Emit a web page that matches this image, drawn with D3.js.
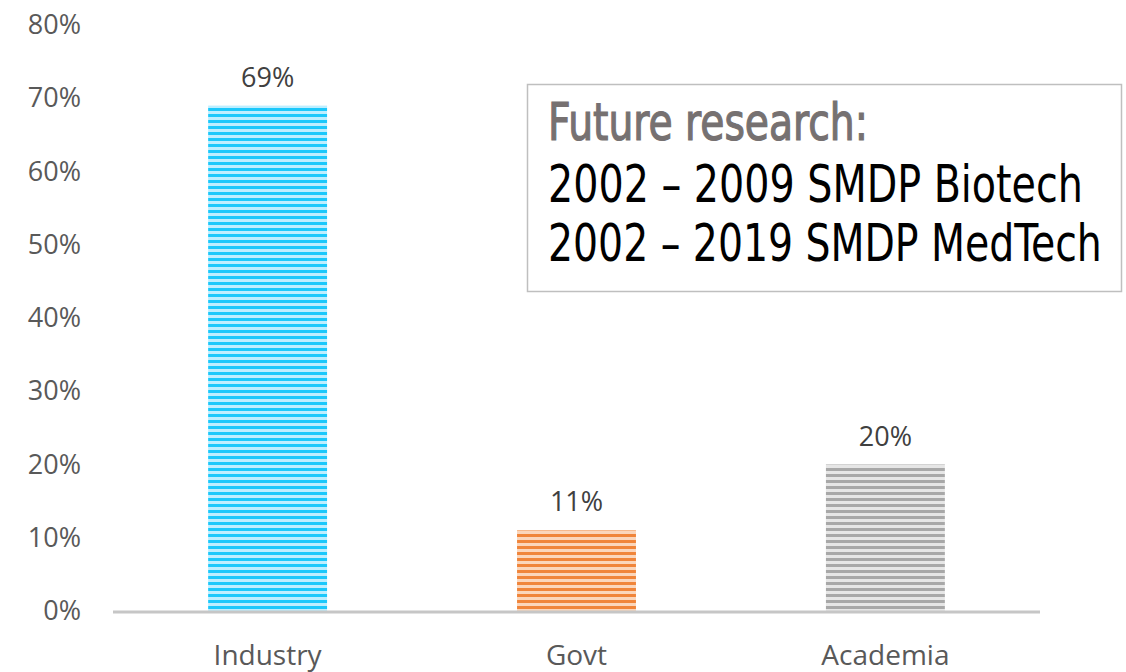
<!DOCTYPE html>
<html><head><meta charset="utf-8">
<script src="https://cdn.jsdelivr.net/npm/d3@7"></script>
<style>body{margin:0;background:#fff}svg{display:block}</style>
</head><body>
<script>
const categories = ["Industry", "Govt", "Academia"];
const values = [69, 11, 20];
const yTicks = [0, 10, 20, 30, 40, 50, 60, 70, 80];
const dark = ["#1cc8fb", "#f0853a", "#a8a8a8"];
const light = ["#bdeeff", "#fbd6bb", "#e6e6e6"];
const boxLines = ["Future research:", "2002 – 2009 SMDP Biotech", "2002 – 2019 SMDP MedTech"];

const W = 1126, H = 672;
const svg = d3.select("body").append("svg").attr("width", W).attr("height", H);
const defs = svg.append("defs");
categories.forEach((c, i) => {
  const p = defs.append("pattern").attr("id", "pat" + i).attr("patternUnits", "userSpaceOnUse")
    .attr("width", 8).attr("height", 6);
  p.append("rect").attr("width", 8).attr("height", 6).attr("fill", light[i]);
  p.append("rect").attr("y", 0).attr("width", 8).attr("height", 3).attr("fill", dark[i]);
});

const x = d3.scaleBand().domain(categories).range([113, 1040]).paddingInner(0.615).paddingOuter(0.308);
const y = d3.scaleLinear().domain([0, 80]).range([611, 25]);
const FONT = "Open Sans, sans-serif";

const yAxis = d3.axisLeft(y).tickValues(yTicks).tickFormat(d => d + "%").tickSize(0).tickPadding(0);
const ga = svg.append("g").attr("transform", "translate(81,0)").call(yAxis);
ga.select(".domain").remove();
ga.selectAll("text").attr("font-family", FONT).attr("font-size", 27).attr("fill", "#595959");

svg.selectAll("rect.bar").data(values).enter().append("rect").attr("class", "bar")
  .attr("x", (d, i) => x(categories[i])).attr("width", x.bandwidth())
  .attr("y", d => y(d)).attr("height", d => y(0) - y(d))
  .attr("fill", (d, i) => `url(#pat${i})`);

svg.append("line").attr("x1", 113).attr("x2", 1040).attr("y1", y(0) + 1).attr("y2", y(0) + 1)
  .attr("stroke", "#c6c6c6").attr("stroke-width", 3);

svg.selectAll("text.lbl").data(values).enter().append("text").attr("class", "lbl")
  .attr("x", (d, i) => x(categories[i]) + x.bandwidth() / 2).attr("y", d => y(d) - 19)
  .attr("text-anchor", "middle").attr("font-family", FONT).attr("font-size", 27)
  .attr("fill", "#404040").text(d => d + "%");

const xAxis = d3.axisBottom(x).tickSize(0).tickPadding(0);
const gx = svg.append("g").attr("transform", `translate(0,${y(0) + 34})`).call(xAxis);
gx.select(".domain").remove();
gx.selectAll("text").attr("font-family", FONT).attr("font-size", 28).attr("fill", "#595959").attr("dy", "0.71em");

svg.append("rect").attr("x", 527.5).attr("y", 84.5).attr("width", 594).attr("height", 207)
  .attr("fill", "#fff").attr("stroke", "#bfbfbf").attr("stroke-width", 1.5);
const lens = [320, 535, 554];
const bases = [140, 202, 261];
boxLines.forEach((t, i) => {
  const g = svg.append("g").attr("transform", `translate(548,${bases[i]})`);
  const tx = g.append("text")
    .attr("font-family", "DejaVu Sans Condensed, DejaVu Sans, sans-serif")
    .attr("font-size", 52)
    .attr("fill", i === 0 ? "#767171" : "#000")
    .attr("stroke", i === 0 ? "#767171" : "none").attr("stroke-width", i === 0 ? 1.2 : 0)
    .text(t);
  const w = tx.node().getComputedTextLength();
  tx.attr("transform", `scale(${lens[i] / w},1)`);
});
</script>
</body></html>
